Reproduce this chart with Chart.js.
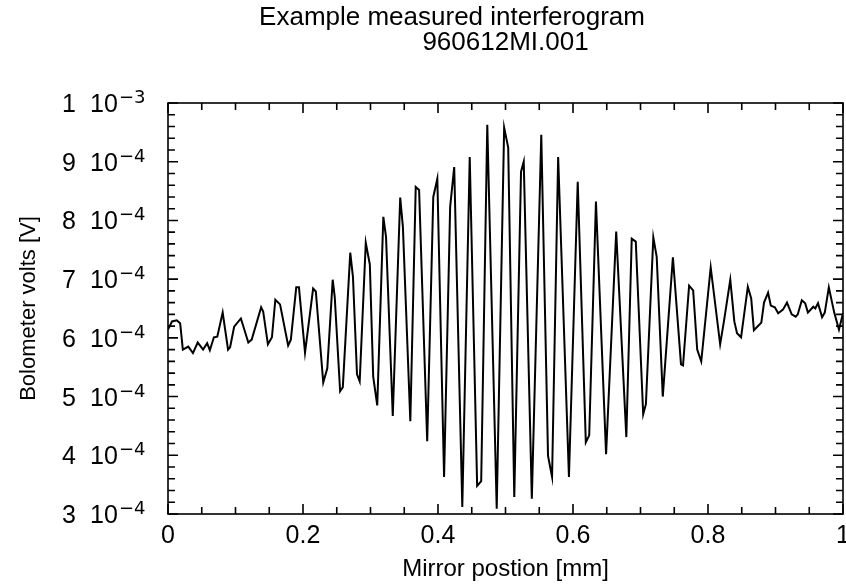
<!DOCTYPE html>
<html>
<head>
<meta charset="utf-8">
<title>Example measured interferogram</title>
<script src="https://cdn.jsdelivr.net/npm/chart.js@4.4.1/dist/chart.umd.min.js"></script>
<style>
    html, body { margin: 0; padding: 0; background: #ffffff; }
    #contenedor { width: 846px; height: 584px; }
</style>
</head>
<body>
<div id="contenedor"><canvas id="interferograma" width="846" height="584"></canvas></div>
<script>
// Mirror position [mm]
const posicion = [
    0.000, 0.006, 0.013, 0.018, 0.022, 0.030, 0.037, 0.044, 0.052, 0.058,
    0.062, 0.068, 0.073, 0.081, 0.089, 0.092, 0.098, 0.108, 0.119, 0.124,
    0.138, 0.141, 0.148, 0.154, 0.159, 0.166, 0.178, 0.182, 0.190, 0.194,
    0.203, 0.215, 0.219, 0.230, 0.236, 0.244, 0.247, 0.255, 0.259, 0.270,
    0.274, 0.280, 0.284, 0.293, 0.299, 0.304, 0.310, 0.319, 0.323, 0.333,
    0.344, 0.348, 0.359, 0.367, 0.372, 0.384, 0.393, 0.399, 0.409, 0.418,
    0.424, 0.436, 0.447, 0.458, 0.464, 0.473, 0.487, 0.498, 0.504, 0.513,
    0.523, 0.527, 0.539, 0.553, 0.563, 0.569, 0.578, 0.594, 0.607, 0.619,
    0.624, 0.634, 0.649, 0.664, 0.679, 0.687, 0.693, 0.704, 0.708, 0.719,
    0.724, 0.733, 0.748, 0.760, 0.763, 0.772, 0.778, 0.784, 0.790, 0.804,
    0.818, 0.824, 0.833, 0.839, 0.843, 0.849, 0.859, 0.864, 0.868, 0.873,
    0.879, 0.883, 0.889, 0.893, 0.899, 0.904, 0.911, 0.917, 0.924, 0.930,
    0.933, 0.939, 0.944, 0.948, 0.956, 0.959, 0.963, 0.969, 0.973, 0.979,
    0.987, 0.994, 1.000
];

// Bolometer volts, in units of 1e-4 V
const tension = [
    6.14, 6.28, 6.30, 6.25, 5.80, 5.85, 5.74, 5.92, 5.80, 5.91,
    5.79, 6.01, 6.02, 6.43, 5.80, 5.84, 6.19, 6.33, 5.92, 5.97,
    6.52, 6.45, 5.89, 6.01, 6.65, 6.57, 5.87, 5.97, 6.86, 6.86,
    5.75, 6.84, 6.79, 5.24, 5.48, 6.99, 6.70, 5.09, 5.16, 7.45,
    7.04, 5.38, 5.26, 7.62, 7.25, 5.34, 4.85, 8.06, 7.72, 4.67,
    8.39, 7.89, 4.58, 8.57, 8.52, 4.24, 8.40, 8.71, 3.63, 8.23,
    8.91, 3.12, 9.08, 3.48, 3.56, 9.63, 3.09, 9.58, 9.24, 3.29,
    8.83, 9.00, 3.26, 9.46, 3.99, 3.63, 9.08, 3.63, 8.66, 4.22,
    4.34, 8.32, 4.02, 7.81, 4.31, 7.69, 7.64, 4.70, 4.87, 7.71,
    7.38, 5.00, 7.37, 5.55, 5.53, 6.89, 6.81, 5.80, 5.60, 7.20,
    5.89, 6.31, 6.99, 6.28, 6.08, 6.01, 6.87, 6.67, 6.13, 6.19,
    6.26, 6.60, 6.77, 6.55, 6.52, 6.42, 6.48, 6.60, 6.40, 6.36,
    6.40, 6.64, 6.59, 6.43, 6.53, 6.50, 6.59, 6.35, 6.43, 6.86,
    6.43, 6.14, 6.42
];

// Axis ticks and labels
const xTicks = [0, 0.2, 0.4, 0.6, 0.8, 1];
const xTickLabels = ['0', '0.2', '0.4', '0.6', '0.8', '1'];
const yTicks = [3, 4, 5, 6, 7, 8, 9, 10];
const yTickMantisa = ['3', '4', '5', '6', '7', '8', '9', '1'];
const yTickExp = ['\u22124', '\u22124', '\u22124', '\u22124', '\u22124', '\u22124', '\u22124', '\u22123'];

const titulo = ['Example measured interferogram', '960612MI.001'];

const fuente = '"Liberation Sans", Arial, sans-serif';

// Draws the box, inward ticks on all four sides, the y labels with exponents and the title.
const marco = {
    id: 'marco',
    afterDraw: function (chart) {
        const ctx = chart.ctx;
        const a = chart.chartArea;
        const x = chart.scales.x;
        const y = chart.scales.y;

        ctx.save();
        ctx.strokeStyle = '#000000';
        ctx.lineWidth = 1.6;
        ctx.strokeRect(a.left, a.top, a.right - a.left, a.bottom - a.top);

        ctx.beginPath();
        for (let i = 0; i <= 20; i++) {
            const px = x.getPixelForValue(i * 0.05);
            const largo = i % 4 === 0 ? 10 : 7;
            ctx.moveTo(px, a.bottom);
            ctx.lineTo(px, a.bottom - largo);
            ctx.moveTo(px, a.top);
            ctx.lineTo(px, a.top + largo);
        }
        for (let i = 0; i <= 35; i++) {
            const py = y.getPixelForValue(3 + i * 0.2);
            const largo = i % 5 === 0 ? 10 : 7;
            ctx.moveTo(a.left, py);
            ctx.lineTo(a.left + largo, py);
            ctx.moveTo(a.right, py);
            ctx.lineTo(a.right - largo, py);
        }
        ctx.stroke();

        // y labels: "n 10" plus a raised exponent
        ctx.fillStyle = '#000000';
        ctx.textBaseline = 'alphabetic';
        ctx.textAlign = 'left';
        for (let i = 0; i < yTicks.length; i++) {
            const py = y.getPixelForValue(yTicks[i]);
            ctx.font = '25px ' + fuente;
            ctx.fillText(yTickMantisa[i], 62, py + 9);
            ctx.fillText('10', 90, py + 9);
            ctx.font = '18px "DejaVu Sans", sans-serif';
            ctx.fillText(yTickExp[i], 119, py);
        }

        // title, two lines over the plot
        ctx.textAlign = 'center';
        ctx.textBaseline = 'middle';
        ctx.font = '26px ' + fuente;
        ctx.fillText(titulo[0], 452, 18);
        ctx.fillText(titulo[1], (a.left + a.right) / 2, 43);
        ctx.restore();
    }
};

const puntos = posicion.map(function (p, i) {
    return { x: p, y: tension[i] };
});

new Chart(document.getElementById('interferograma'), {
    type: 'line',
    data: {
        datasets: [
            {
                label: 'Bolometer volts',
                data: puntos,
                borderColor: '#000000',
                borderWidth: 2,
                pointRadius: 0,
                tension: 0,
                fill: false,
            },
        ],
    },
    options: {
        responsive: false,
        animation: false,
        devicePixelRatio: 1,
        layout: {
            padding: { top: 103, right: 3, bottom: 0, left: 0 },
        },
        plugins: {
            legend: { display: false },
            tooltip: { enabled: false },
        },
        scales: {
            x: {
                type: 'linear',
                min: 0,
                max: 1,
                afterBuildTicks: function (scale) {
                    scale.ticks = xTicks.map(function (v) { return { value: v }; });
                },
                afterFit: function (scale) {
                    scale.height = 70;
                    scale.paddingLeft = 0;
                    scale.paddingRight = 0;
                },
                ticks: {
                    autoSkip: false,
                    maxRotation: 0,
                    padding: 10,
                    color: '#000000',
                    font: { family: fuente, size: 25, lineHeight: 1 },
                    callback: function (value, index) {
                        return xTickLabels[index];
                    },
                },
                grid: { display: false, drawTicks: false },
                border: { display: false },
                title: {
                    display: true,
                    text: 'Mirror postion [mm]',
                    color: '#000000',
                    font: { family: fuente, size: 24 },
                    padding: { top: 0, bottom: 0 },
                },
            },
            y: {
                min: 3,
                max: 10,
                afterFit: function (scale) {
                    scale.width = 168;
                },
                ticks: { display: false },
                grid: { display: false, drawTicks: false },
                border: { display: false },
                title: {
                    display: true,
                    text: 'Bolometer volts [V]',
                    color: '#000000',
                    font: { family: fuente, size: 22 },
                    padding: { top: 16, bottom: 0 },
                },
            },
        },
    },
    plugins: [marco],
});
</script>
</body>
</html>
